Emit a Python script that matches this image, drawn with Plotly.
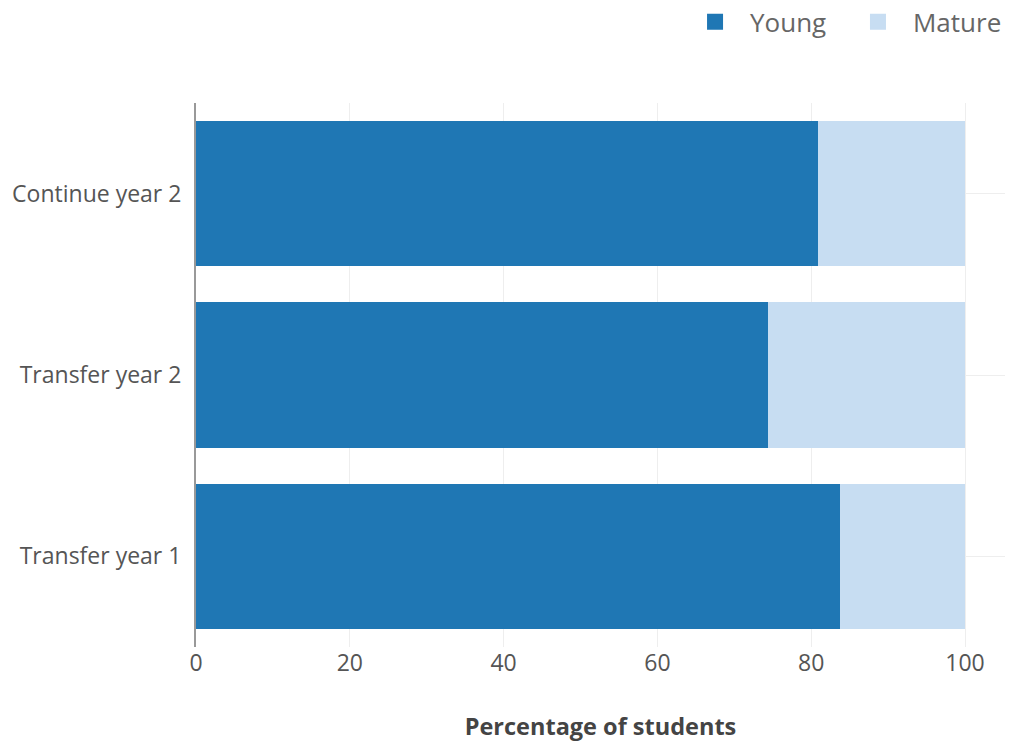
import plotly.graph_objects as go

categories = ["Transfer year 1", "Transfer year 2", "Continue year 2"]
young = [83.8, 74.4, 80.9]
mature = [16.2, 25.6, 19.1]
series_names = ["Young", "Mature"]
colors = ["#1f77b4", "#c7ddf2"]
x_ticks = [0, 20, 40, 60, 80, 100]

FONT = "Open Sans"

fig = go.Figure()
legend_ids = ["legend", "legend2"]
for name, vals, col, lg in zip(series_names, [young, mature], colors, legend_ids):
    fig.add_trace(go.Bar(
        y=categories, x=vals, name=name, orientation="h",
        marker=dict(color=col, line=dict(width=0)),
        showlegend=False,
    ))
    # legend entry with larger square symbol
    fig.add_trace(go.Scatter(
        x=[None], y=[None], mode="markers", name=name,
        marker=dict(symbol="square", size=18, color=col),
        showlegend=True, legend=lg,
    ))

legend_style = dict(
    orientation="h", xref="container",
    yref="container", y=0.981, yanchor="middle",
    font=dict(size=26, color="#666666", family=FONT),
    bgcolor="rgba(0,0,0,0)",
    itemwidth=60,
)

fig.update_layout(
    width=1005, height=734,
    margin=dict(l=188, r=8, t=95, b=95, autoexpand=False),
    barmode="stack",
    bargap=0.2,
    plot_bgcolor="white",
    paper_bgcolor="white",
    font=dict(family=FONT, color="#555555"),
    legend=dict(x=0.6687, xanchor="left", **legend_style),
    legend2=dict(x=0.994, xanchor="right", **legend_style),
    xaxis=dict(
        range=[0, 105.2], tickvals=x_ticks,
        showgrid=True, gridcolor="#eeeeee", gridwidth=1,
        zeroline=False, showline=False,
        tickfont=dict(size=23, color="#555555"),
        ticks="", ticklabelstandoff=0,
        title=dict(text="<b>Percentage of students</b>",
                   font=dict(size=23.5, color="#444444"), standoff=41),
    ),
    yaxis=dict(
        range=[-0.5, 2.5],
        showgrid=True, gridcolor="#eeeeee", gridwidth=1,
        showline=True, linecolor="#999999", linewidth=2,
        zeroline=False, ticks="",
        tickfont=dict(size=23, color="#555555"),
        ticklabelstandoff=8,
    ),
)

fig.write_html("out.html")
